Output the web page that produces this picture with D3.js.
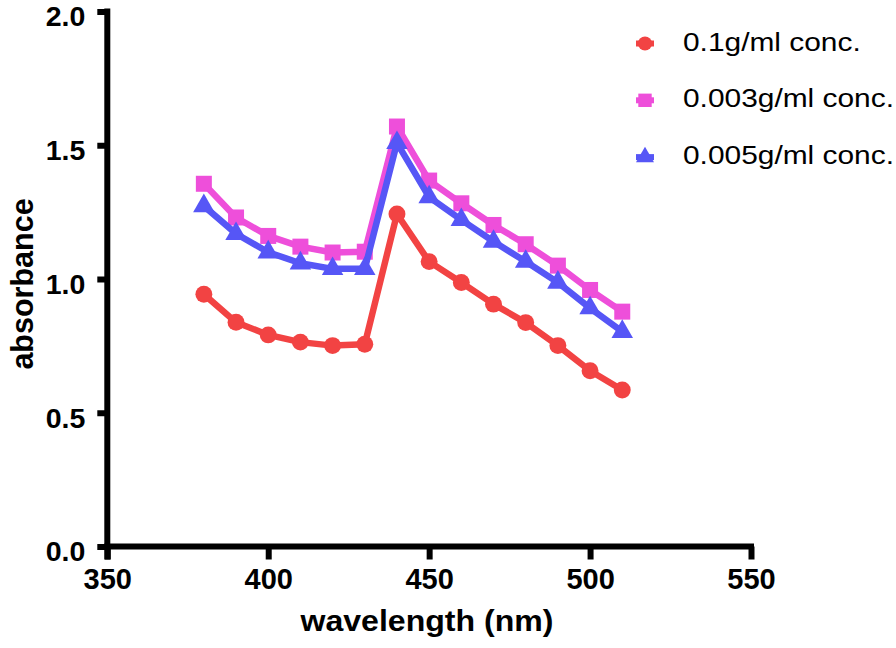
<!DOCTYPE html>
<html><head><meta charset="utf-8">
<script src="https://cdn.jsdelivr.net/npm/d3@7"></script>
<style>
html,body{margin:0;padding:0;background:#fff;}
svg{display:block;}
text{font-family:"Liberation Sans",Arial,Helvetica,sans-serif;}
</style></head>
<body>
<svg id="chart" width="896" height="648"></svg>
<script>
const wavelengths = [380,390,400,410,420,430,440,450,460,470,480,490,500,510];
const conc01  = [0.943,0.838,0.791,0.764,0.751,0.756,1.243,1.065,0.987,0.906,0.837,0.751,0.657,0.585];
const conc003 = [1.356,1.230,1.161,1.121,1.099,1.102,1.570,1.368,1.283,1.202,1.130,1.050,0.959,0.878];
const conc005 = [1.273,1.169,1.100,1.059,1.038,1.038,1.509,1.306,1.221,1.140,1.065,0.987,0.891,0.803];
const seriesNames = ["0.1g/ml conc.","0.003g/ml conc.","0.005g/ml conc."];
const xTicks = [350,400,450,500,550];
const yTicks = [0,0.5,1.0,1.5,2.0];

const series = [
  {name: seriesNames[0], values: conc01,  color: "#F24343", symbol: d3.symbolCircle,   size: 225},
  {name: seriesNames[1], values: conc003, color: "#EE4FDA", symbol: d3.symbolSquare,   size: 256},
  {name: seriesNames[2], values: conc005, color: "#5656F6", symbol: d3.symbolTriangle, size: 200}
];

const svg = d3.select("#chart");
const x = d3.scaleLinear().domain([350,550]).range([107.3,751]);
const y = d3.scaleLinear().domain([0,2]).range([546.5,11.5]);
const AW = 6;

// axes
const gy = svg.append("g").attr("transform","translate(107.3,0)")
  .call(d3.axisLeft(y).tickValues(yTicks).tickFormat(d3.format(".1f")).tickSize(10).tickSizeOuter(0));
const gx = svg.append("g").attr("transform","translate(0,546.5)")
  .call(d3.axisBottom(x).tickValues(xTicks).tickFormat(d3.format("d")).tickSize(13).tickSizeOuter(0));
[gx,gy].forEach(g=>{
  g.select(".domain").remove();
  g.selectAll(".tick line").attr("stroke","#000").attr("stroke-width",AW);
  g.selectAll(".tick text").attr("fill","#000").attr("font-weight","bold")
    .attr("font-family","'Liberation Sans',Arial,sans-serif");
});
gy.selectAll(".tick text").attr("font-size",28.5).attr("x",-22).attr("dy","0.5em");
gx.selectAll(".tick text").attr("font-size",29).attr("y",22).attr("dy","0.71em");
svg.append("line").attr("x1",107.3).attr("x2",107.3).attr("y1",8.5).attr("y2",559.5)
  .attr("stroke","#000").attr("stroke-width",AW);
svg.append("line").attr("x1",104.3).attr("x2",754).attr("y1",546.5).attr("y2",546.5)
  .attr("stroke","#000").attr("stroke-width",AW);

// axis titles
svg.append("text").attr("x",427).attr("y",631).attr("text-anchor","middle")
  .attr("font-size",30).attr("font-weight","bold").attr("transform","translate(427,631) scale(1.07,1) translate(-427,-631)")
  .text("wavelength (nm)");
svg.append("text").attr("transform","translate(32.5,284) rotate(-90)").attr("text-anchor","middle")
  .attr("font-size",30.5).attr("font-weight","bold").text("absorbance");

// series
const line = d3.line().x(d=>x(d[0])).y(d=>y(d[1]));
series.forEach(s=>{
  const pts = wavelengths.map((w,i)=>[w,s.values[i]]);
  svg.append("path").datum(pts).attr("d",line).attr("fill","none")
    .attr("stroke",s.color).attr("stroke-width",6.5).attr("stroke-linejoin","round");
  svg.append("g").selectAll("path").data(pts).join("path")
    .attr("transform",d=>`translate(${x(d[0])},${y(d[1])})`)
    .attr("d",d3.symbol().type(s.symbol).size(s.size)).attr("fill",s.color);
});

// legend
const lg = svg.append("g");
series.forEach((s,i)=>{
  const cy = 43.5 + i*56.8;
  lg.append("line").attr("x1",636).attr("x2",654).attr("y1",cy).attr("y2",cy)
    .attr("stroke",s.color).attr("stroke-width",6);
  lg.append("path").attr("transform",`translate(645,${cy})`)
    .attr("d",d3.symbol().type(s.symbol).size(s.size*0.7)).attr("fill",s.color);
  lg.append("text").attr("transform",`translate(683,${cy+7}) scale(1.15,1)`)
    .attr("font-size",26).attr("fill","#000").text(s.name);
});
</script>
</body></html>
